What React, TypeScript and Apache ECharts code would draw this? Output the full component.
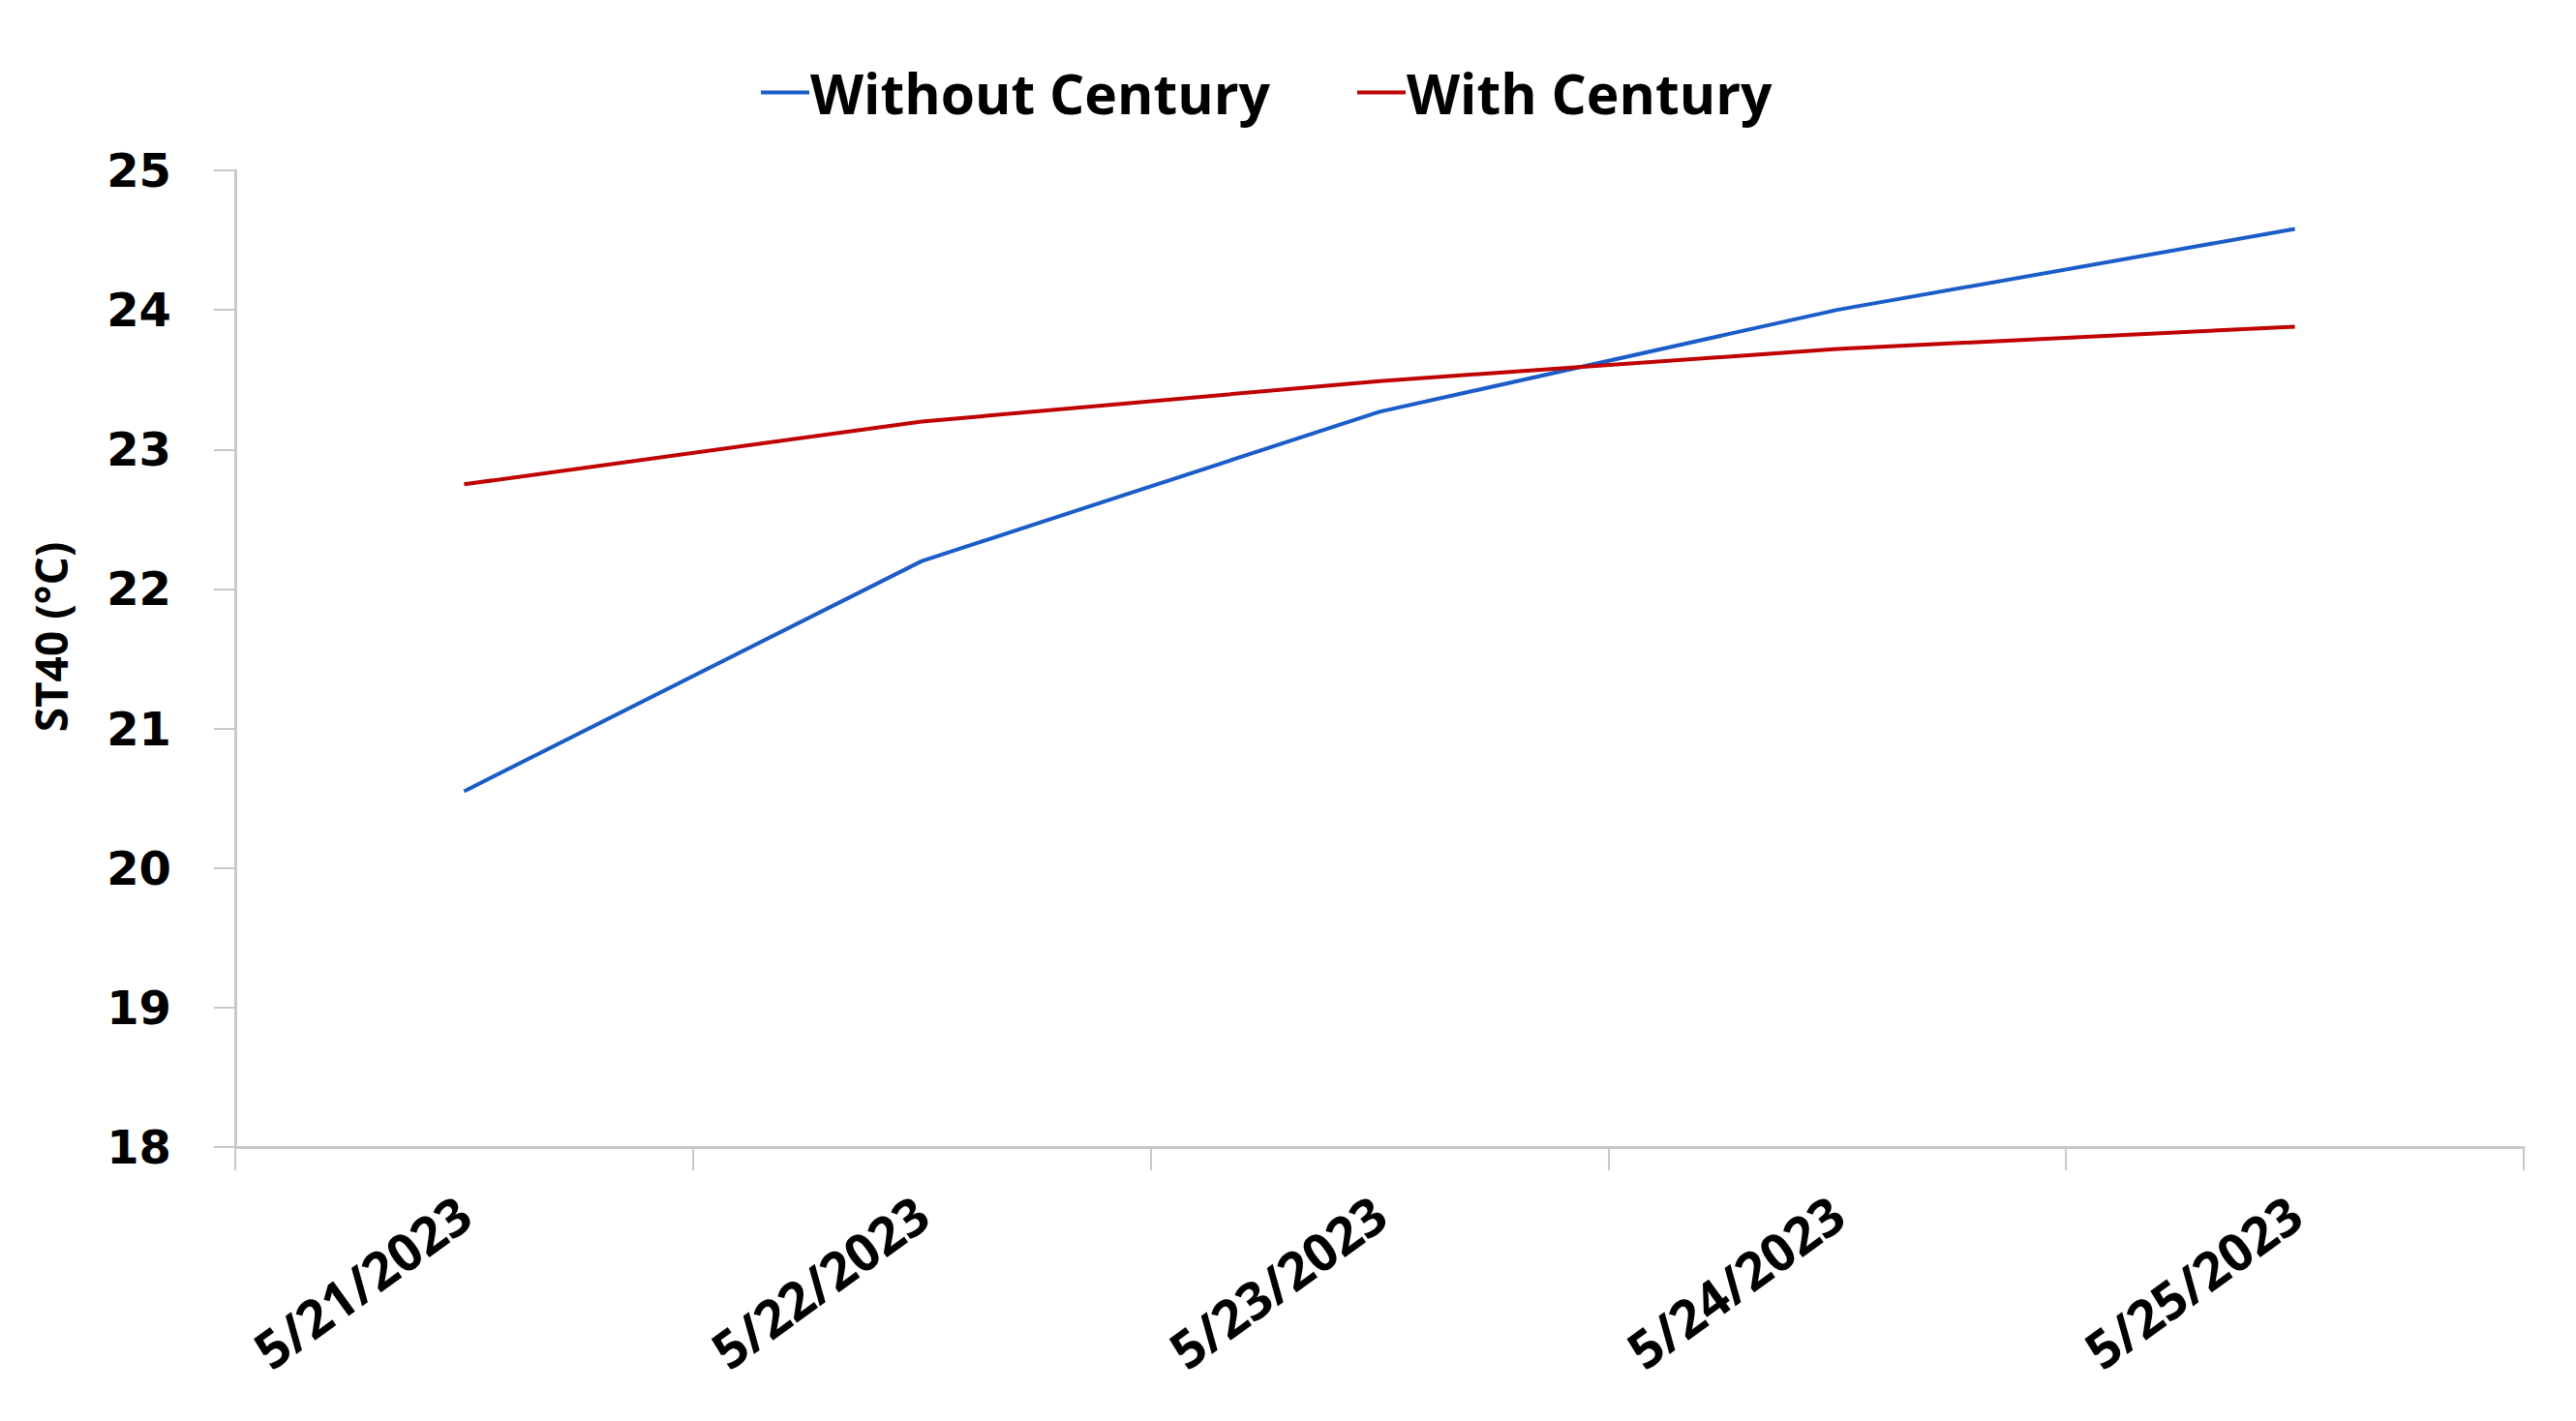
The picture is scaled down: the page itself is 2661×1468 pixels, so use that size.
import React, { useEffect, useRef } from "react";
import * as echarts from "echarts";

const categories = ["5/21/2023", "5/22/2023", "5/23/2023", "5/24/2023", "5/25/2023"];
const withoutCentury = [20.55, 22.2, 23.27, 24.0, 24.58];
const withCentury = [22.75, 23.2, 23.49, 23.72, 23.88];
const seriesNames = ["Without Century", "With Century"];
const yAxisTitle = "ST40 (°C)";
const yMin = 18;
const yMax = 25;
const yStep = 1;

export default function App() {
  const ref = useRef<HTMLDivElement>(null);
  useEffect(() => {
    if (!ref.current) return;
    const chart = echarts.init(ref.current, null, { renderer: "svg" });
    const narrow = "'Open Sans', 'Noto Sans', sans-serif";
    chart.setOption({
      animation: false,
      backgroundColor: "#ffffff",
      legend: {
        top: 62,
        left: 781,
        itemWidth: 50,
        itemHeight: 4,
        itemGap: 90,
        icon: "rect",
        textStyle: { fontFamily: narrow, fontWeight: "bold", fontSize: 57, color: "#000", padding: [0, 0, 0, -4] },
        data: seriesNames,
      },
      graphic: [
        {
          type: "text",
          x: 52,
          y: 658,
          rotation: Math.PI / 2,
          style: {
            text: yAxisTitle,
            fontFamily: narrow,
            fontWeight: "bold",
            fontSize: 46,
            fill: "#000",
            align: "center",
            verticalAlign: "middle",
          },
        },
      ],
      grid: { left: 243, right: 54, top: 176, bottom: 283, containLabel: false },
      xAxis: {
        type: "category",
        data: categories,
        boundaryGap: true,
        axisLine: { lineStyle: { color: "#c8c8c8", width: 3 } },
        axisTick: { show: true, length: 24, lineStyle: { color: "#c8c8c8", width: 2 } },
        axisLabel: {
          rotate: 36,
          margin: 62,
          fontFamily: narrow,
          fontWeight: "bold",
          fontSize: 54,
          color: "#000",
        },
      },
      yAxis: {
        type: "value",
        min: yMin,
        max: yMax,
        interval: yStep,
        splitLine: { show: false },
        axisLine: { show: true, lineStyle: { color: "#c8c8c8", width: 3 } },
        axisTick: { show: true, length: 22, lineStyle: { color: "#c8c8c8", width: 2 } },
        axisLabel: {
          margin: 66,
          fontFamily: "'DejaVu Sans', sans-serif",
          fontWeight: "bold",
          fontSize: 48,
          color: "#000",
        },
      },
      series: [
        {
          name: seriesNames[0],
          type: "line",
          data: withoutCentury,
          showSymbol: false,
          symbol: "none",
          itemStyle: { color: "#1a5cc8" },
          lineStyle: { color: "#1a5cc8", width: 4 },
        },
        {
          name: seriesNames[1],
          type: "line",
          data: withCentury,
          showSymbol: false,
          symbol: "none",
          itemStyle: { color: "#c00000" },
          lineStyle: { color: "#c00000", width: 4 },
        },
      ],
    });
    return () => chart.dispose();
  }, []);
  return (
    <div
      ref={ref}
      style={{ position: "absolute", left: 0, top: 0, width: 2661, height: 1468, background: "#fff" }}
    />
  );
}
